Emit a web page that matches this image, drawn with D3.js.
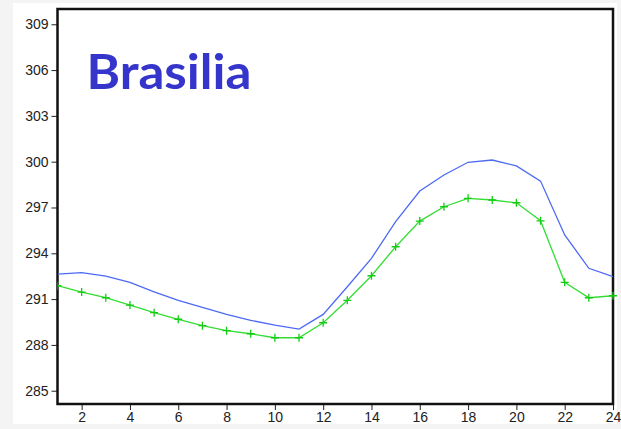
<!DOCTYPE html>
<html>
<head>
<meta charset="utf-8">
<script src="https://cdn.jsdelivr.net/npm/d3@7"></script>
<style>
  body { margin: 0; background: #f4f4f4; }
  svg { display: block; }
</style>
</head>
<body>
<div id="chart"></div>
<script>
// Hours and the two series
const hours = [1, 2, 3, 4, 5, 6, 7, 8, 9, 10, 11, 12, 13, 14, 15, 16, 17, 18, 19, 20, 21, 22, 23, 24];
const blueValues = [292.64, 292.73, 292.51, 292.10, 291.48, 290.92, 290.46, 290.00, 289.61, 289.30, 289.04, 290.00,
    291.81, 293.67, 296.07, 298.08, 299.13, 299.96, 300.11, 299.72, 298.73, 295.20, 293.02, 292.47];
const greenValues = [291.88, 291.46, 291.09, 290.61, 290.11, 289.68, 289.26, 288.93, 288.73, 288.47, 288.47, 289.45,
    290.92, 292.53, 294.43, 296.11, 297.05, 297.60, 297.49, 297.31, 296.13, 292.10, 291.09, 291.22];
const xTicks = [2, 4, 6, 8, 10, 12, 14, 16, 18, 20, 22, 24];
const yTicks = [285, 288, 291, 294, 297, 300, 303, 306, 309];
const title = "Brasilia";

const W = 621, H = 429;
const margin = { top: 9, right: 8, bottom: 25, left: 57.5 };
const width = W - margin.left - margin.right;
const height = H - margin.top - margin.bottom;

const root = d3.select("#chart")
    .append("svg")
    .attr("width", W)
    .attr("height", H);

// white panel behind the plot
root.append("rect")
    .attr("x", 13).attr("y", 3)
    .attr("width", 604).attr("height", 421)
    .attr("fill", "#ffffff");

const svg = root.append("g")
    .attr("transform", `translate(${margin.left},${margin.top})`);

const xScale = d3.scaleLinear().domain([1, 24]).range([0, width]);
const yScale = d3.scaleLinear().domain([284.13, 310.0]).range([height, 0]);

// axes
const xAxis = d3.axisBottom(xScale).tickValues(xTicks).tickSize(6).tickPadding(2).tickFormat(d => d);
const yAxis = d3.axisLeft(yScale).tickValues(yTicks).tickSize(6).tickPadding(3).tickFormat(d => d);

const gx = svg.append("g")
    .attr("transform", `translate(0,${height})`)
    .call(xAxis);
const gy = svg.append("g").call(yAxis);

[gx, gy].forEach(g => {
    g.select(".domain").remove();
    g.selectAll("line").attr("stroke", "#222").attr("stroke-width", 1);
    g.selectAll("text")
        .attr("fill", "#222")
        .style("font-family", "'Liberation Sans', Arial, sans-serif")
        .style("font-size", "14px");
});

// frame
svg.append("rect")
    .attr("x", 0).attr("y", 0)
    .attr("width", width).attr("height", height)
    .attr("fill", "none")
    .attr("stroke", "#111")
    .attr("stroke-width", 2.5);

// title
svg.append("text")
    .attr("x", xScale(2.2))
    .attr("y", 80)
    .attr("textLength", 165)
    .attr("lengthAdjust", "spacingAndGlyphs")
    .style("font-family", "'Comic Sans MS', Lato, sans-serif")
    .style("font-weight", "bold")
    .style("font-size", "48px")
    .attr("fill", "#3535cc")
    .text(title);

const line = d3.line()
    .x(d => xScale(d[0]))
    .y(d => yScale(d[1]));

const clip = svg.append("clipPath").attr("id", "clip")
    .append("rect").attr("width", width + 4).attr("height", height);

const plot = svg.append("g").attr("clip-path", "url(#clip)");

plot.append("path")
    .datum(d3.zip(hours, blueValues))
    .attr("d", line)
    .attr("fill", "none")
    .attr("stroke", "#4d6af5")
    .attr("stroke-width", 1.3);

const greenData = d3.zip(hours, greenValues);
plot.append("path")
    .datum(greenData)
    .attr("d", line)
    .attr("fill", "none")
    .attr("stroke", "#33dd33")
    .attr("stroke-width", 1.3);

// plus markers on the green series
plot.selectAll(".mark")
    .data(greenData)
    .enter()
    .append("path")
    .attr("class", "mark")
    .attr("d", d => {
        const x = xScale(d[0]), y = yScale(d[1]);
        return `M${x - 4},${y}H${x + 4}M${x},${y - 4}V${y + 4}`;
    })
    .attr("stroke", "#11cc11")
    .attr("stroke-width", 1.3);
</script>
</body>
</html>
